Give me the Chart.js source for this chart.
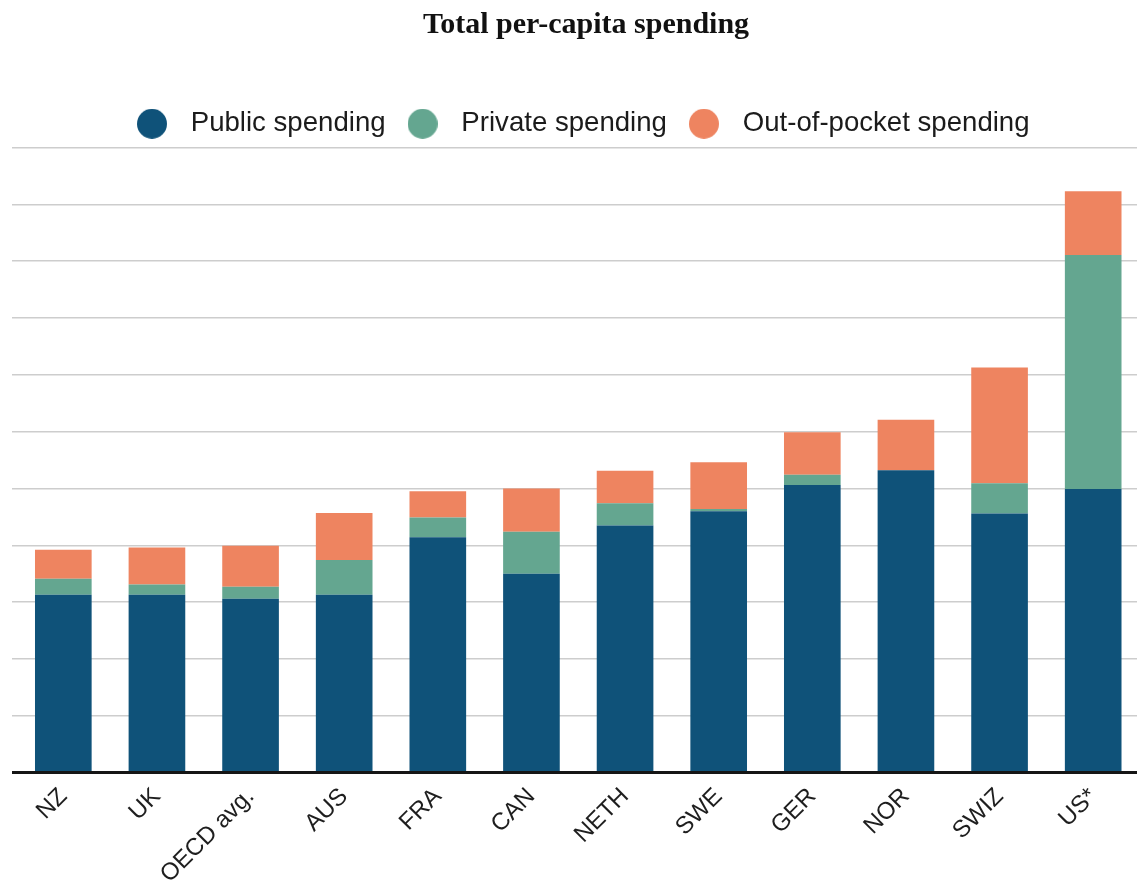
<!DOCTYPE html>
<html>
<head>
<meta charset="utf-8">
<script src="https://cdn.jsdelivr.net/npm/chart.js@4"></script>
<style>
  html, body { margin: 0; padding: 0; background: #fff; overflow: hidden; }
  #wrap { width: 1160px; height: 888px; }
</style>
</head>
<body>
<div id="wrap"><canvas id="chart" width="1160" height="888"></canvas></div>
<script>
// per-capita spending, US$
const countries = ["NZ", "UK", "OECD avg.", "AUS", "FRA", "CAN", "NETH", "SWE", "GER", "NOR", "SWIZ", "US*"];
const publicSpending = [3130, 3130, 3060, 3130, 4140, 3500, 4350, 4600, 5060, 5320, 4560, 4990];
const privateSpending = [280, 180, 210, 610, 350, 740, 390, 40, 180, 0, 530, 4120];
const outOfPocketSpending = [510, 650, 720, 830, 460, 760, 570, 820, 750, 890, 2040, 1120];
const seriesNames = ["Public spending", "Private spending", "Out-of-pocket spending"];
const seriesColors = ["#0f5279", "#64a690", "#ee8460"];
const yMax = 11000;
const yStep = 1000;

// legend dots drawn as small canvases so the gap to the text can be set
const makeDot = (color) => {
  const c = document.createElement("canvas");
  c.width = 30;
  c.height = 30;
  const g = c.getContext("2d");
  g.fillStyle = color;
  g.beginPath();
  g.arc(15, 15, 15, 0, Math.PI * 2);
  g.fill();
  return c;
};
const dots = seriesColors.map(makeDot);

const values = [publicSpending, privateSpending, outOfPocketSpending];

new Chart(document.getElementById("chart"), {
  type: "bar",
  data: {
    labels: countries,
    datasets: values.map((data, i) => ({
      label: seriesNames[i],
      data: data,
      backgroundColor: seriesColors[i],
      borderWidth: 0,
      barPercentage: 0.605,
      categoryPercentage: 1
    }))
  },
  options: {
    responsive: false,
    animation: false,
    layout: { padding: { left: 12, right: 0, top: 0, bottom: 0 } },
    plugins: {
      tooltip: { enabled: false },
      title: {
        display: true,
        text: "Total per-capita spending",
        color: "#111111",
        font: { family: "Liberation Serif", size: 30, weight: "bold" },
        padding: { top: 7, bottom: 55 }
      },
      legend: {
        position: "top",
        fullSize: false,
        labels: {
          usePointStyle: true,
          pointStyleWidth: 50,
          padding: 12,
          color: "#1b1b1b",
          font: { family: "Liberation Sans", size: 27.6 },
          generateLabels: (chart) =>
            Chart.defaults.plugins.legend.labels.generateLabels(chart).map((item, i) =>
              Object.assign(item, { pointStyle: dots[i] }))
        }
      }
    },
    scales: {
      x: {
        stacked: true,
        offset: true,
        grid: { display: false, drawTicks: false },
        border: { display: true, color: "#151515", width: 3, z: 1 },
        ticks: {
          color: "#1e1e1e",
          font: { family: "Liberation Sans", size: 24 },
          maxRotation: 45,
          minRotation: 45,
          padding: 10,
          autoSkip: false
        },
        afterFit: (scale) => { scale.height = 115.5; }
      },
      y: {
        stacked: true,
        min: 0,
        max: yMax,
        ticks: { display: false, stepSize: yStep },
        grid: {
          color: (ctx) => ctx.tick.value === 0 ? "#151515" : "#cdcdcd",
          lineWidth: (ctx) => ctx.tick.value === 0 ? 3 : 1.5,
          drawTicks: true,
          tickLength: 4.5
        },
        border: { display: false }
      },
      yRight: {
        position: "right",
        display: true,
        grid: { display: false, drawTicks: false },
        ticks: { display: false },
        border: { display: false },
        afterFit: (scale) => { scale.width = 20; }
      }
    }
  }
});
</script>
</body>
</html>
